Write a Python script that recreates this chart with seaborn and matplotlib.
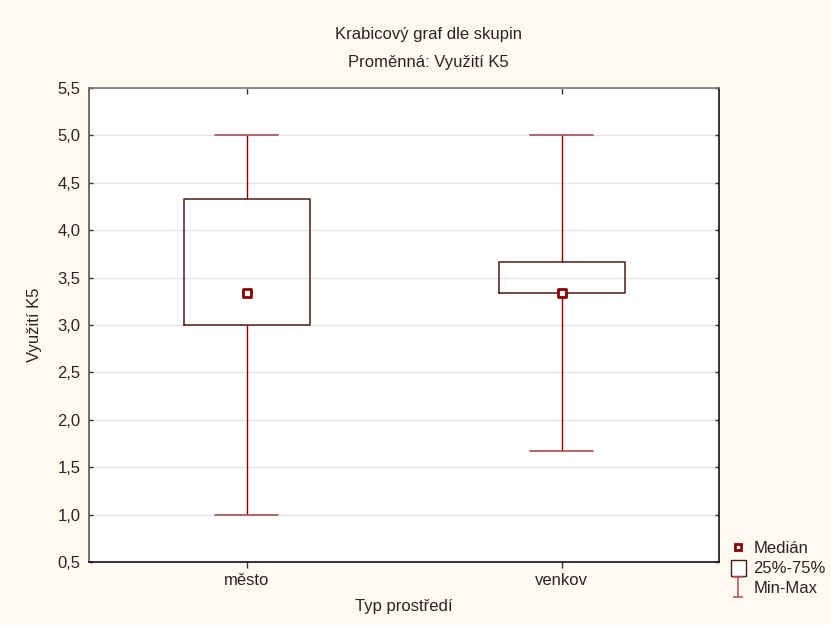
import numpy as np
import pandas as pd
import matplotlib
matplotlib.use("Agg")
import matplotlib.pyplot as plt
from matplotlib.lines import Line2D
from matplotlib.patches import Patch
from matplotlib.path import Path
import seaborn as sns

# Groups and five-number summaries of "Využití K5"
groups = ["město", "venkov"]
val_min = [1.0, 1.667]
val_q1 = [3.0, 3.333]
val_median = [3.333, 3.333]
val_q3 = [4.333, 3.667]
val_max = [5.0, 5.0]

y_ticks = [0.5, 1.0, 1.5, 2.0, 2.5, 3.0, 3.5, 4.0, 4.5, 5.0, 5.5]
y_tick_labels = ["0,5", "1,0", "1,5", "2,0", "2,5", "3,0", "3,5", "4,0", "4,5", "5,0", "5,5"]

# Five values per group: with linear interpolation their quartiles are
# exactly Q1 / median / Q3, and the 0-100 % whiskers reach min and max.
rows = []
for g, a, b, c, d, e in zip(groups, val_min, val_q1, val_median, val_q3, val_max):
    for v in (a, b, c, d, e):
        rows.append({"Typ prostředí": g, "Využití K5": v})
df = pd.DataFrame(rows)
med_df = pd.DataFrame({"Typ prostředí": groups, "Využití K5": val_median})

sns.set_theme(style="white")
plt.rcParams["font.family"] = ["Liberation Sans", "DejaVu Sans"]

BG = "#fffaf0"
RED = "#8b0000"
BOX = "#4d1a1a"
CAP = "#b25a5a"
FS = 12

fig = plt.figure(figsize=(8.3, 6.25), dpi=100, facecolor=BG)
ax = fig.add_axes([89 / 830, 1 - 562 / 625, 630 / 830, 474 / 625])
ax.set_facecolor("white")

sns.boxplot(
    data=df, x="Typ prostředí", y="Využití K5", order=groups,
    whis=(0, 100), showfliers=False, width=0.4, fill=False,
    boxprops=dict(color=BOX, linewidth=1.1),
    whiskerprops=dict(color=RED, linewidth=1.0),
    capprops=dict(color=CAP, linewidth=1.3),
    medianprops=dict(linewidth=0),
    ax=ax, zorder=3,
)
sns.scatterplot(
    data=med_df, x="Typ prostředí", y="Využití K5", marker="s", s=30,
    facecolor="white", edgecolor=RED, linewidth=2.0, ax=ax, zorder=5,
    legend=False,
)

ax.set_xlim(-0.5, 1.5)
ax.set_ylim(0.5, 5.5)
ax.set_yticks(y_ticks)
ax.set_yticklabels(y_tick_labels, fontsize=FS)
ax.set_xticks(range(len(groups)))
ax.set_xticklabels(groups, fontsize=FS)
ax.yaxis.grid(True, color="#e4e4e4", linewidth=1.0, zorder=0)
ax.set_axisbelow(True)

ax.tick_params(axis="y", which="both", left=True, right=True, direction="in",
               length=3, width=1, color="#333333", pad=6)
ax.tick_params(axis="x", which="both", bottom=True, top=False, direction="out",
               length=4, width=1, color="#333333", pad=4)
# inward category ticks along the top edge
top = ax.secondary_xaxis("top")
top.set_xticks(range(len(groups)))
top.set_xticklabels([])
top.tick_params(direction="in", length=4, width=1, color="#333333")
top.spines["top"].set_visible(False)

for spine in ax.spines.values():
    spine.set_visible(True)
    spine.set_linewidth(1.2)
ax.spines["top"].set_color("#777777")
ax.spines["left"].set_color("#555555")
ax.spines["bottom"].set_color("#111111")
ax.spines["right"].set_color("#111111")

ax.set_xlabel("Typ prostředí", fontsize=FS, labelpad=8)
ax.set_ylabel("Využití K5", fontsize=FS, labelpad=11)

fig.text(428 / 830, 1 - 35 / 625, "Krabicový graf dle skupin",
         ha="center", va="center", fontsize=FS)
fig.text(428 / 830, 1 - 63 / 625, "Proměnná: Využití K5",
         ha="center", va="center", fontsize=FS)

# Legend symbol for the min-max whisker
ibeam = Path([(-0.5, 1), (0.5, 1), (0, 1), (0, -1), (-0.5, -1), (0.5, -1)],
             [Path.MOVETO, Path.LINETO, Path.MOVETO, Path.LINETO, Path.MOVETO, Path.LINETO])
handles = [
    Line2D([], [], linestyle="none", marker="s", markersize=5,
           markerfacecolor="white", markeredgecolor=RED, markeredgewidth=2),
    Patch(facecolor="white", edgecolor=BOX, linewidth=1),
    Line2D([], [], linestyle="none", marker=ibeam, markersize=15,
           markeredgecolor=CAP, markeredgewidth=1.2),
]
fig.legend(handles, ["Medián", "25%-75%", "Min-Max"], loc="lower right",
           bbox_to_anchor=(1.009, 0.027), frameon=False, fontsize=FS,
           handlelength=0.9, handleheight=1.1, handletextpad=0.45,
           labelspacing=0.2, borderaxespad=0.3)

fig.savefig("out.png", dpi=100, facecolor=BG)
